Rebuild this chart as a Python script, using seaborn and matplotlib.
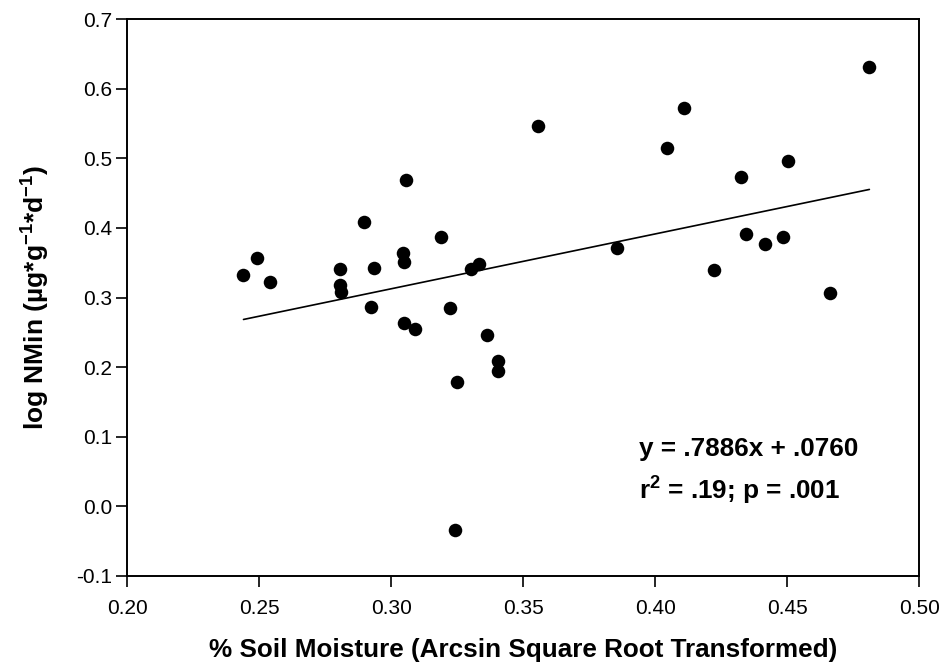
import matplotlib
matplotlib.use("Agg")
import matplotlib.pyplot as plt
import seaborn as sns
import numpy as np
import pandas as pd

moisture = [0.3054, 0.2898, 0.3188, 0.3044, 0.3049, 0.2491, 0.2440, 0.2542,
            0.2806, 0.2806, 0.2809, 0.2933, 0.2924, 0.3221, 0.3048, 0.3088,
            0.4811, 0.4110, 0.3557, 0.4043, 0.4504, 0.4323, 0.4344, 0.4483,
            0.4417, 0.3854, 0.3301, 0.3332, 0.4224, 0.4663, 0.3362, 0.3404,
            0.3404, 0.3250, 0.3243]
log_nmin = [0.469, 0.408, 0.387, 0.364, 0.351, 0.357, 0.333, 0.322,
            0.341, 0.318, 0.308, 0.342, 0.287, 0.285, 0.264, 0.254,
            0.632, 0.572, 0.546, 0.515, 0.496, 0.474, 0.392, 0.387,
            0.377, 0.371, 0.341, 0.348, 0.340, 0.306, 0.246, 0.209,
            0.195, 0.178, -0.034]
slope = 0.7886
intercept = 0.0760
x_ticks = [0.20, 0.25, 0.30, 0.35, 0.40, 0.45, 0.50]
y_ticks = [-0.1, 0.0, 0.1, 0.2, 0.3, 0.4, 0.5, 0.6, 0.7]

sns.set_theme(style="ticks")
plt.rcParams['font.family'] = ['Liberation Sans', 'DejaVu Sans']
plt.rcParams['mathtext.fontset'] = 'custom'
plt.rcParams['mathtext.rm'] = 'Liberation Sans'
plt.rcParams['mathtext.bf'] = 'Liberation Sans:bold'
plt.rcParams['text.color'] = 'black'
plt.rcParams['axes.labelcolor'] = 'black'
plt.rcParams['xtick.color'] = 'black'
plt.rcParams['ytick.color'] = 'black'

df = pd.DataFrame({"x": moisture, "y": log_nmin})

fig = plt.figure(figsize=(9.44, 6.69), dpi=100)
ax = fig.add_axes([0.1349, 0.1395, 0.8389, 0.8316])

sns.scatterplot(data=df, x="x", y="y", ax=ax, s=95, color="black",
                edgecolor="black", linewidth=0, zorder=3)

xl = np.array([min(moisture), max(moisture)])
ax.plot(xl, slope * xl + intercept, color="black", lw=1.2, zorder=2)

ax.set_xlim(0.20, 0.50)
ax.set_ylim(-0.1, 0.7)
ax.set_xticks(x_ticks)
ax.set_xticklabels([f"{t:.2f}" for t in x_ticks])
ax.set_yticks(y_ticks)
ax.set_yticklabels([f"{t:.1f}" for t in y_ticks])
ax.tick_params(axis="both", direction="out", length=8, width=1.2,
               labelsize=15, colors="black")
ax.tick_params(axis="x", pad=9)
ax.tick_params(axis="y", pad=3)
for sp in ax.spines.values():
    sp.set_visible(True)
    sp.set_linewidth(1.4)
    sp.set_color("black")

ax.set_xlabel("% Soil Moisture (Arcsin Square Root Transformed)",
              fontsize=18.8, fontweight="bold", labelpad=14, color="black")
ax.set_ylabel(r"log NMin (µg*g$^{\mathbf{-1}}$*d$^{\mathbf{-1}}$)",
              fontsize=19, fontweight="bold", labelpad=18, color="black")

ax.text(0.3938, 0.072, "y = .7886x + .0760", fontsize=18.8,
        fontweight="bold", ha="left", va="baseline", color="black")
ax.text(0.3938, 0.0115, r"r$^{\mathbf{2}}$ = .19; p = .001", fontsize=18.8,
        fontweight="bold", ha="left", va="baseline", color="black")

fig.savefig("out.png", dpi=100)
